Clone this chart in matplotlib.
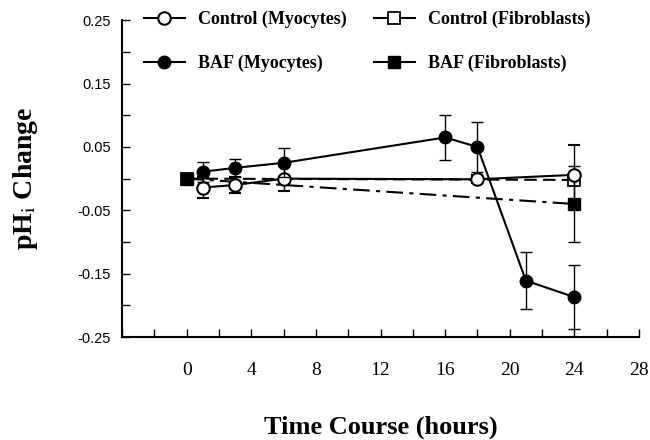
import matplotlib
matplotlib.use('Agg')
import matplotlib.pyplot as plt
from matplotlib.lines import Line2D

plt.rcParams['mathtext.fontset'] = 'stix'

# time points (hours)
t_myo = [1, 3, 6, 18, 24]
t_myo_baf = [1, 3, 6, 16, 18, 21, 24]
t_fib = [0, 24]

# pHi change values
ctrl_myo = [-0.014, -0.010, 0.000, -0.001, 0.006]
ctrl_myo_err = [0.016, 0.012, 0.020, 0.006, 0.047]
baf_myo = [0.011, 0.017, 0.025, 0.065, 0.050, -0.161, -0.187]
baf_myo_err = [0.016, 0.014, 0.023, 0.035, 0.039, 0.045, 0.050]
ctrl_fib = [0.000, -0.002]
ctrl_fib_err = [0.0, 0.006]
baf_fib = [0.000, -0.040]
baf_fib_err = [0.0, 0.060]

xticks = [0, 4, 8, 12, 16, 20, 24, 28]
yticks = [0.25, 0.15, 0.05, -0.05, -0.15, -0.25]

fig = plt.figure(figsize=(6.5, 4.4), dpi=100)
ax = fig.add_axes([0.188, 0.234, 0.795, 0.72])

ekw = dict(ecolor='black', elinewidth=1, capsize=4, capthick=1)

ax.errorbar(t_fib, ctrl_fib, yerr=ctrl_fib_err, color='black', ls=(0, (6, 3)),
            lw=1.5, marker='s', ms=8, mfc='white', mec='black', mew=1.3, **ekw, zorder=2)
ax.errorbar(t_fib, baf_fib, yerr=baf_fib_err, color='black', ls=(0, (8, 3, 2, 3)),
            lw=1.5, marker='s', ms=8, mfc='black', mec='black', **ekw, zorder=3)
ax.errorbar(t_myo, ctrl_myo, yerr=ctrl_myo_err, color='black', ls='-',
            lw=1.5, marker='o', ms=9, mfc='white', mec='black', mew=1.5, **ekw, zorder=4)
ax.errorbar(t_myo_baf, baf_myo, yerr=baf_myo_err, color='black', ls='-',
            lw=1.5, marker='o', ms=9, mfc='black', mec='black', **ekw, zorder=5)

ax.set_xlim(-4, 28)
ax.set_ylim(-0.25, 0.25)
ax.set_xticks(xticks)
ax.set_xticks(range(-4, 29, 2), minor=True)
ax.set_yticks(yticks)
ax.set_yticks([0.20, 0.10, 0.0, -0.10, -0.20], minor=True)
ax.set_yticklabels([f'{v:.2f}' for v in yticks], family='Liberation Sans', fontsize=10.5)
ax.set_xticklabels([str(v) for v in xticks], family='Liberation Serif', fontsize=14)
ax.tick_params(which='both', direction='in', length=6, width=1)
ax.tick_params(axis='x', pad=18)
ax.tick_params(axis='y', pad=8)

for s in ['top', 'right']:
    ax.spines[s].set_visible(False)
for s in ['left', 'bottom']:
    ax.spines[s].set_linewidth(1.5)

ax.set_xlabel('Time Course (hours)', family='Liberation Serif', fontweight='bold',
              fontsize=19, labelpad=26)
ax.set_ylabel(r'pH$_{\rm i}$ Change', family='Liberation Serif', fontweight='bold',
              fontsize=20, labelpad=27)

handles = [
    Line2D([], [], color='black', lw=1.5, marker='o', ms=9, mfc='white', mew=1.5),
    Line2D([], [], color='black', lw=1.5, marker='o', ms=9, mfc='black'),
    Line2D([], [], color='black', lw=1.5, marker='s', ms=8, mfc='white', mew=1.3),
    Line2D([], [], color='black', lw=1.5, marker='s', ms=8, mfc='black'),
]
labels = ['Control (Myocytes)', 'BAF (Myocytes)', 'Control (Fibroblasts)', 'BAF (Fibroblasts)']
ax.legend(handles, labels, ncol=2, frameon=False, loc='upper left',
          bbox_to_anchor=(0.01, 1.08), handlelength=2.3, labelspacing=1.45,
          columnspacing=1.5, handletextpad=0.7,
          prop={'family': 'Liberation Serif', 'weight': 'bold', 'size': 13})

fig.savefig('out.png', dpi=100)
